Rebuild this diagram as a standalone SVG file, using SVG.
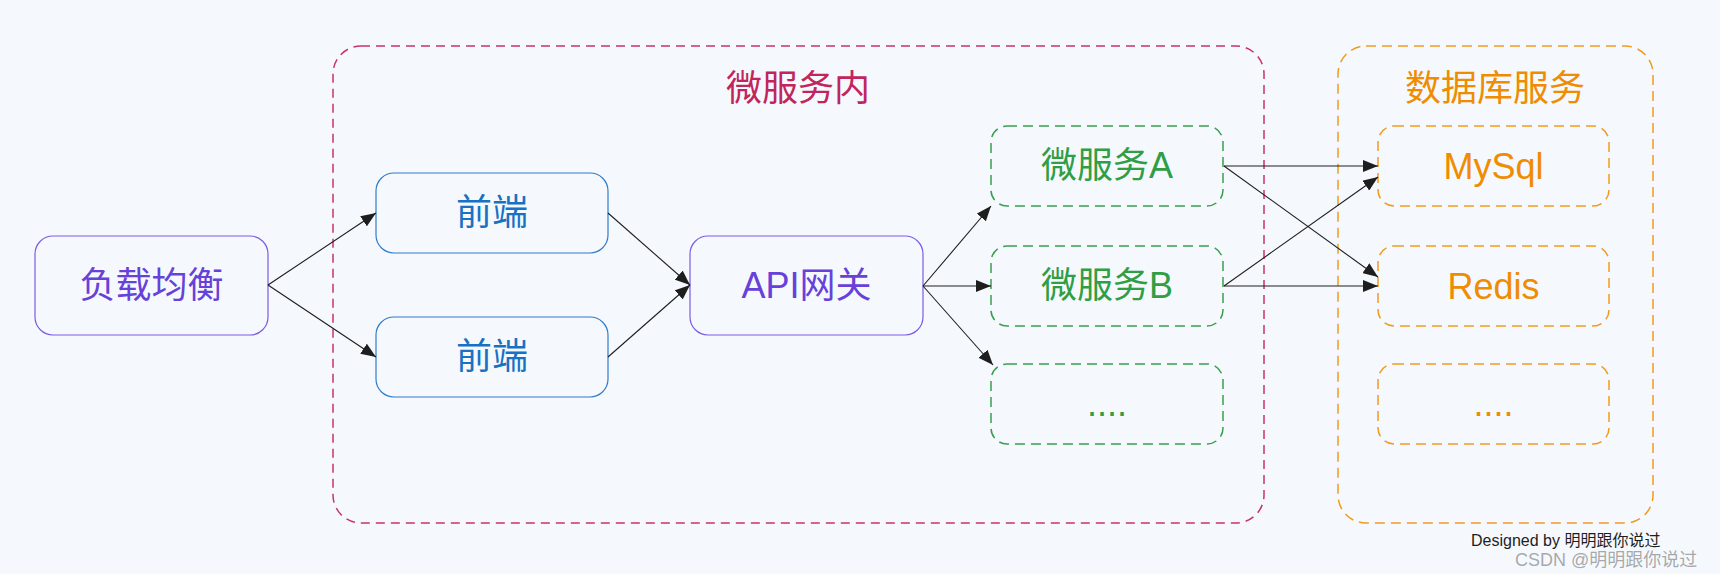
<svg xmlns="http://www.w3.org/2000/svg" width="1720" height="574" viewBox="0 0 1720 574">
<defs>
<marker id="arr" markerUnits="userSpaceOnUse" markerWidth="16" markerHeight="12" refX="15" refY="6" orient="auto">
<path d="M0,0 L15,6 L0,12 z" fill="#1e1e1e"/>
</marker>
<style>
text{font-family:"Liberation Sans","Noto Sans CJK SC",sans-serif;text-anchor:middle}
.lbl{font-size:36px}
.purple rect{fill:none;stroke:#7c5ae6;stroke-width:1.2}
.purple text{fill:#6741d9}
.blue rect{fill:none;stroke:#2f7cc8;stroke-width:1.2}
.blue text{fill:#1971c2}
.green rect{fill:none;stroke:#3a9e4c;stroke-width:1.5;stroke-dasharray:10 6}
.green text{fill:#2f9e44}
.orange rect{fill:none;stroke:#f29a1c;stroke-width:1.5;stroke-dasharray:10 6}
.orange text{fill:#f08c00}
.crimson rect{fill:none;stroke:#c9336a;stroke-width:1.5;stroke-dasharray:9 6}
.crimson text{fill:#c2255c}
.conn line{stroke:#1e1e1e;stroke-width:1.1;marker-end:url(#arr)}
</style>
</defs>
<rect x="0" y="0" width="1720" height="574" fill="#f5f9fd"/>

<g id="grp-micro" class="crimson">
<rect x="333" y="46" width="931" height="477" rx="28"/>
<text class="lbl" x="798" y="101">微服务内</text>
</g>
<g id="grp-db" class="orange">
<rect x="1338" y="46" width="315" height="477" rx="28"/>
<text class="lbl" x="1495" y="101">数据库服务</text>
</g>

<g id="lb" class="purple">
<rect x="35" y="236" width="233" height="99" rx="18"/>
<text class="lbl" x="151.5" y="298">负载均衡</text>
</g>
<g id="fe1" class="blue">
<rect x="376" y="173" width="232" height="80" rx="18"/>
<text class="lbl" x="492" y="225">前端</text>
</g>
<g id="fe2" class="blue">
<rect x="376" y="317" width="232" height="80" rx="18"/>
<text class="lbl" x="492" y="369">前端</text>
</g>
<g id="gw" class="purple">
<rect x="690" y="236" width="233" height="99" rx="18"/>
<text class="lbl" x="806.5" y="298">API网关</text>
</g>
<g id="msa" class="green">
<rect x="991" y="126" width="232" height="80" rx="16"/>
<text class="lbl" x="1107" y="178">微服务A</text>
</g>
<g id="msb" class="green">
<rect x="991" y="246" width="232" height="80" rx="16"/>
<text class="lbl" x="1107" y="298">微服务B</text>
</g>
<g id="msc" class="green">
<rect x="991" y="364" width="232" height="80" rx="16"/>
<text class="lbl" x="1107" y="416">....</text>
</g>
<g id="mysql" class="orange">
<rect x="1378" y="126" width="231" height="80" rx="16"/>
<text class="lbl" x="1493.5" y="179">MySql</text>
</g>
<g id="redis" class="orange">
<rect x="1378" y="246" width="231" height="80" rx="16"/>
<text class="lbl" x="1493.5" y="299">Redis</text>
</g>
<g id="dbc" class="orange">
<rect x="1378" y="364" width="231" height="80" rx="16"/>
<text class="lbl" x="1493.5" y="416">....</text>
</g>

<g id="connectors" class="conn">
<line x1="268" y1="285" x2="376" y2="213"/>
<line x1="268" y1="285" x2="376" y2="357"/>
<line x1="608" y1="213" x2="690" y2="285"/>
<line x1="608" y1="357" x2="690" y2="285"/>
<line x1="923" y1="286" x2="991" y2="206"/>
<line x1="923" y1="286" x2="991" y2="286"/>
<line x1="923" y1="286" x2="993" y2="365"/>
<line x1="1224" y1="166" x2="1378" y2="166"/>
<line x1="1224" y1="166" x2="1378" y2="277"/>
<line x1="1224" y1="286" x2="1378" y2="286"/>
<line x1="1224" y1="286" x2="1378" y2="177"/>
</g>

<text x="1471" y="546" font-size="16" fill="#1e1e1e" style="text-anchor:start">Designed by 明明跟你说过</text>
<text x="1515" y="566" font-size="18" fill="#9a9a9a" fill-opacity="0.85" style="text-anchor:start">CSDN @明明跟你说过</text>
</svg>
